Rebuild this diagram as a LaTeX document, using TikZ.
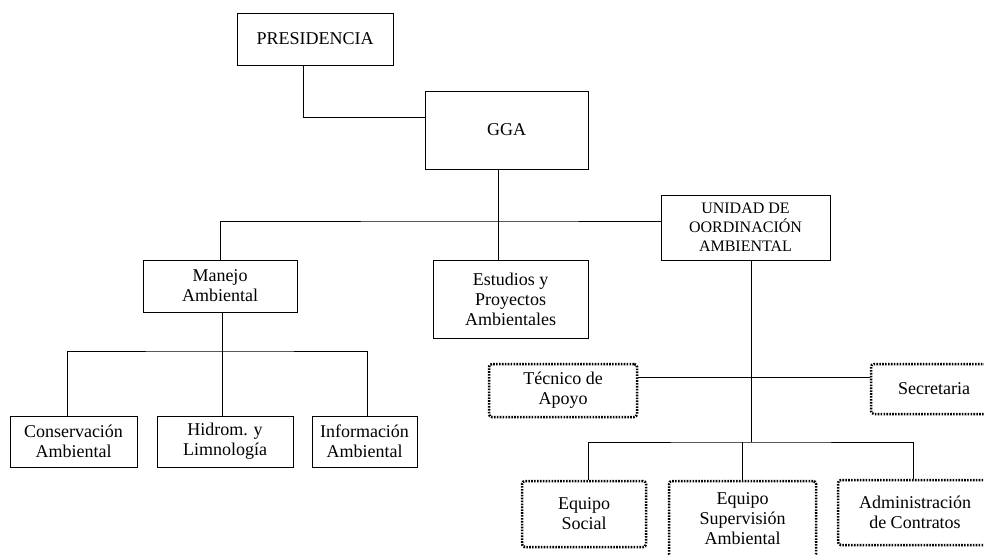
\documentclass[tikz,border=0pt]{standalone}
\usepackage{fontspec}
\setmainfont{Liberation Serif}
\usepackage{tikz}
\tikzset{caja/.style={draw, line width=0.9pt, align=center, inner sep=0pt, font=\fontsize{18}{20}\selectfont}}
\tikzset{cajapunt/.style={caja, line width=2.5pt, dash pattern=on 1.6pt off 1.3pt, rounded corners=3pt}}

\begin{document}
\begin{tikzpicture}[x=1pt,y=-1pt]
	\useasboundingbox (0,0) rectangle (984,554);
	\clip (0,0) rectangle (984,554);

	% direccion
	\node[caja, minimum width=156, minimum height=52] (pres) at (315,39) {PRESIDENCIA};
	\node[caja, minimum width=163, minimum height=78] (gga) at (506.5,130) {GGA};
	\node[caja, minimum width=169, minimum height=65, font=\fontsize{16}{19}\selectfont] (uca) at (745.5,227.5) {UNIDAD DE\\OORDINACIÓN\\AMBIENTAL};

	% gerencias
	\node[caja, minimum width=154, minimum height=52] (manejo) at (220,286) {Manejo\\Ambiental};
	\node[caja, minimum width=155, minimum height=78] (estudios) at (510.5,299) {Estudios y\\Proyectos\\Ambientales};

	\node[caja, minimum width=127, minimum height=51] (cons) at (73.5,441.5) {Conservación\\Ambiental};
	\node[caja, minimum width=136, minimum height=51] (hidro) at (225,441.5) {Hidrom. y\\Limnología};
	\node[caja, minimum width=105, minimum height=51] (info) at (364.5,441.5) {Información\\Ambiental};

	% unidad (punteado)
	\node[cajapunt, minimum width=148, minimum height=53] (tec) at (563,390.5) {Técnico de\\Apoyo};
	\node[cajapunt, minimum width=126, minimum height=50] (secre) at (934,389) {Secretaria};
	\node[cajapunt, minimum width=124, minimum height=66] (social) at (584,514) {Equipo\\Social};
	\node[cajapunt, minimum width=147, minimum height=76] (superv) at (742.5,519) {Equipo\\Supervisión\\Ambiental};
	\node[cajapunt, minimum width=154, minimum height=65] (admin) at (915,512.5) {Administración\\de Contratos};

	% lineas
	\draw[line width=0.9pt] ([xshift=-12pt]pres.south) |- ([yshift=13pt]gga.west);

	\coordinate (g1) at (498,221);
	\draw[line width=0.9pt] (gga.south -| g1) -- (g1);
	\draw[line width=0.9pt] (manejo.north) |- (g1) -- (g1 -| uca.west);
	\draw[line width=0.9pt] (g1) -- (g1 |- estudios.north);

	\coordinate (m1) at (222,351);
	\draw[line width=0.9pt] (manejo.south -| m1) -- (m1);
	\draw[line width=0.9pt] ([xshift=-6pt]cons.north) |- (m1) -| ([xshift=3pt]info.north);
	\draw[line width=0.9pt] (m1) -- (m1 |- hidro.north);

	\coordinate (u1) at (751,377);
	\coordinate (u2) at (751,442);
	\draw[line width=0.9pt] (uca.south -| u1) -- (u2);
	\draw[line width=0.9pt] (tec.east |- u1) -- (secre.west |- u1);
	\draw[line width=0.9pt] ([xshift=4pt]social.north) |- (u2) -| ([xshift=-2pt]admin.north);
	\draw[line width=0.9pt] (u2 -| superv.north) -- (superv.north);
\end{tikzpicture}
\end{document}
